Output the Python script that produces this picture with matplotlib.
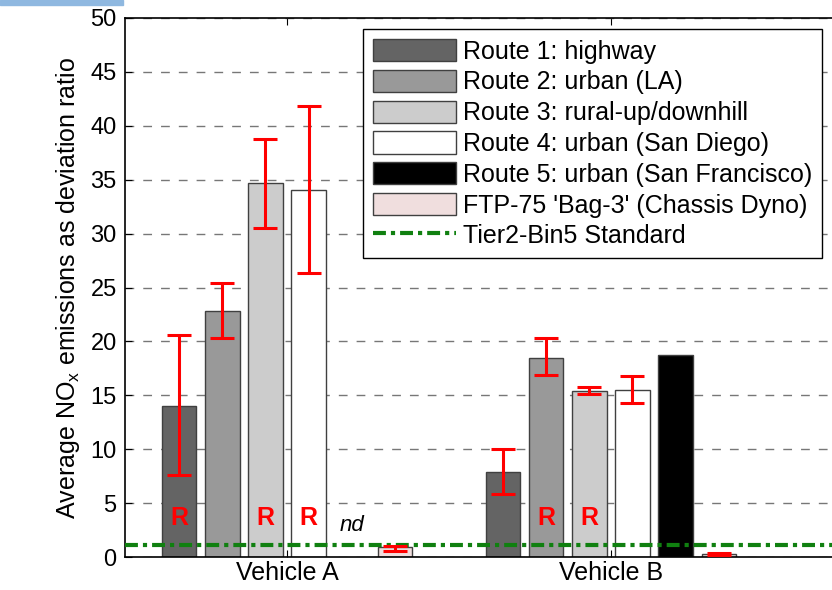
import numpy as np
import matplotlib as mpl

mpl.use('Agg')

import matplotlib.pyplot as plt
from matplotlib.patches import Patch, Rectangle
from matplotlib.lines import Line2D

plt.rcParams['font.family'] = ['Liberation Sans', 'DejaVu Sans']
plt.rcParams['mathtext.fontset'] = 'custom'
plt.rcParams['mathtext.rm'] = 'Liberation Sans'

vehicles = ['Vehicle A', 'Vehicle B']
series = ['Route 1: highway', 'Route 2: urban (LA)', 'Route 3: rural-up/downhill',
          'Route 4: urban (San Diego)', 'Route 5: urban (San Francisco)',
          "FTP-75 'Bag-3' (Chassis Dyno)"]
nan = np.nan
# rows: series, cols: vehicle A, vehicle B
values = [[14.0, 7.9],
          [22.8, 18.5],
          [34.7, 15.4],
          [34.0, 15.5],
          [nan, 18.7],
          [0.9, 0.3]]
err_low = [[7.6, 5.8],
           [20.3, 16.9],
           [30.5, 15.1],
           [26.3, 14.3],
           [nan, nan],
           [0.6, 0.15]]
err_high = [[20.6, 10.0],
            [25.4, 20.3],
            [38.8, 15.8],
            [41.8, 16.8],
            [nan, nan],
            [1.0, 0.4]]
r_marks = [[True, False], [False, True], [True, True], [True, False], [False, False], [False, False]]
tier2_bin5 = 1.1

colors = ['#646464', '#999999', '#cccccc', '#ffffff', '#000000', '#f0dede']
green_dash = (0, (3.1, 1.2, 1.0, 1.2))

fig = plt.figure(figsize=(8.32, 5.9), dpi=100)
ax = fig.add_axes([125 / 832, 33 / 590, 0.876, 539 / 590])

# screenshot artefact strip at top-left
fig.patches.append(Rectangle((0, 585 / 590), 123 / 832, 5 / 590, transform=fig.transFigure,
                             color='#8fb8e0', zorder=0))

x = np.arange(1, len(vehicles) + 1)
n = len(series)
gw = 0.8
step = gw / n
bw = 0.107

for i in range(n):
    xs = x - gw / 2 + step * (i + 0.5)
    ax.bar(xs, values[i], width=bw, color=colors[i], edgecolor='#404040', linewidth=1.0, zorder=2)
    lo = np.array(err_low[i])
    hi = np.array(err_high[i])
    mid = (lo + hi) / 2
    ax.errorbar(xs, mid, yerr=(hi - lo) / 2, fmt='none', ecolor='red', elinewidth=2.2,
                capsize=8.5, capthick=2.2, zorder=4)
    for j in range(len(vehicles)):
        if r_marks[i][j]:
            ax.text(xs[j], 3.6, 'R', color='red', fontsize=18, fontweight='bold',
                    ha='center', va='center', zorder=5)
        if np.isnan(values[i][j]):
            ax.text(xs[j], 2.9, 'nd', fontsize=16, style='italic', ha='center', va='center')

ax.axhline(tier2_bin5, color='#108010', linestyle=green_dash, linewidth=3.0, zorder=3)

ax.set_xlim(0.5, 2.75)
ax.set_ylim(0, 50)
ax.set_yticks(np.arange(0, 51, 5))
ax.set_xticks(x)
ax.set_xticklabels(vehicles, fontsize=18)
ax.tick_params(axis='y', labelsize=17, direction='in', length=5, pad=6)
ax.tick_params(axis='x', direction='in', length=5, top=True, pad=3)
ax.yaxis.grid(True, linestyle=(0, (6.3, 6.5)), color='#777777', linewidth=1.0, zorder=0)
ax.set_axisbelow(True)
for s in ax.spines.values():
    s.set_linewidth(1.2)
ax.set_ylabel('Average NO$_\\mathregular{x}$ emissions as deviation ratio', fontsize=18, labelpad=6)

handles = [Patch(facecolor=c, edgecolor='#404040', linewidth=1.0) for c in colors]
handles.append(Line2D([], [], color='#108010', linestyle=green_dash, linewidth=3.0))
labels = series + ['Tier2-Bin5 Standard']
leg = ax.legend(handles, labels, loc='upper left', bbox_to_anchor=(363 / 832, 1 - 29 / 590),
                bbox_transform=fig.transFigure, fontsize=18, frameon=True, fancybox=False,
                edgecolor='black', framealpha=1, handlelength=3.3, handleheight=1.0,
                handletextpad=0.3, labelspacing=0.24, borderpad=0.4, borderaxespad=0)
leg.get_frame().set_linewidth(1.0)

plt.savefig('out.png', dpi=100)
